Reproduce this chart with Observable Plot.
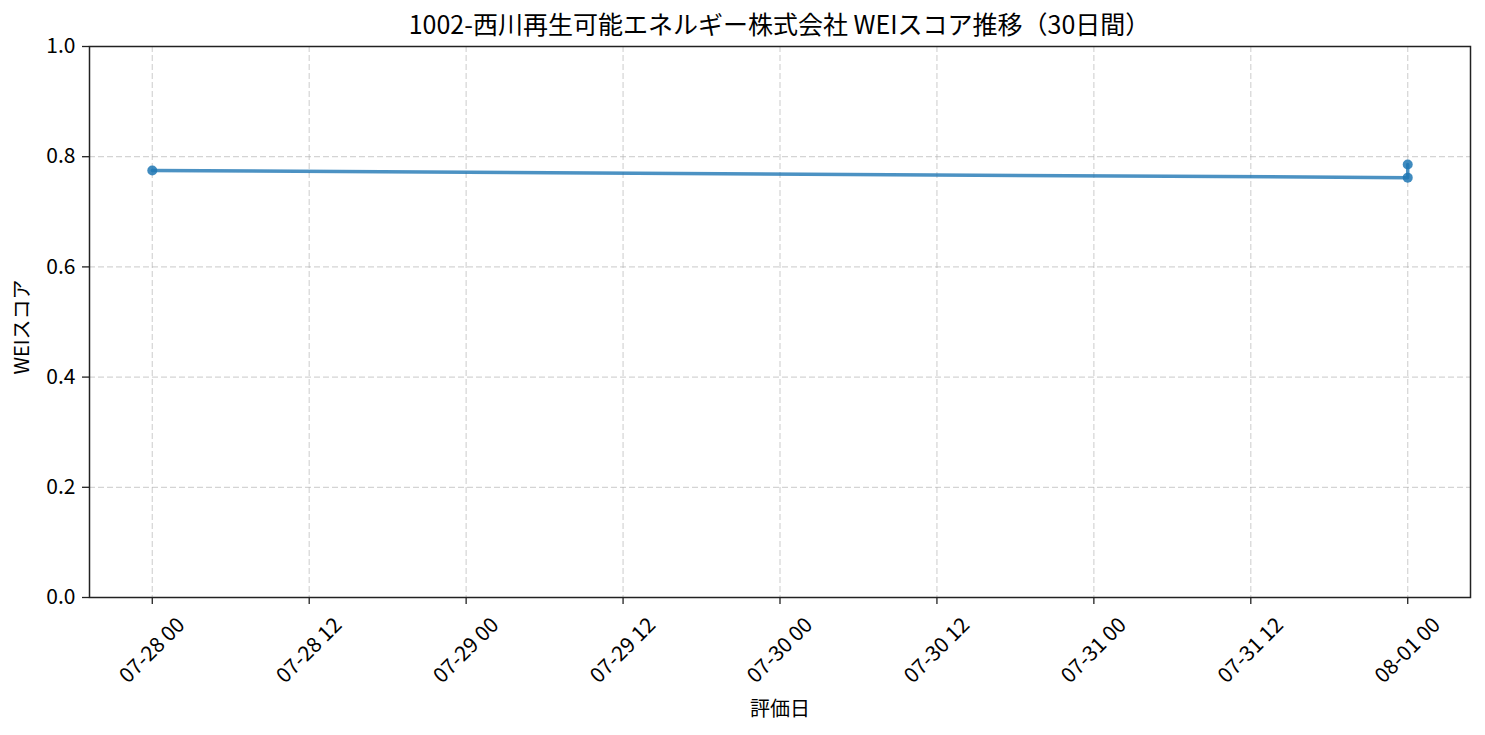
<!DOCTYPE html>
<html><head><meta charset="utf-8">
<script src="https://cdn.jsdelivr.net/npm/d3@7"></script>
<script src="https://cdn.jsdelivr.net/npm/@observablehq/plot@0.6"></script>
<style>
body{margin:0;background:#fff;font-family:"Noto Sans CJK JP",sans-serif;}
#wrap{width:1485px;height:735px;position:relative;}
#title{height:28px;box-sizing:border-box;padding:10px 15px 0 89px;text-align:center;font-size:25px;line-height:27px;color:#000;position:relative;z-index:1;white-space:nowrap;}
svg{display:block;}
</style></head>
<body><div id="wrap"><div id="title">1002-西川再生可能エネルギー株式会社 WEIスコア推移（30日間）</div><div id="chart"></div></div>
<script>
const dates = ["2025-07-28T00:00:00Z", "2025-08-01T00:00:00Z", "2025-08-01T00:00:00Z"];
const scores = [0.775, 0.762, 0.786];
const xTickLabels = ["07-28 00","07-28 12","07-29 00","07-29 12","07-30 00","07-30 12","07-31 00","07-31 12","08-01 00"];
const yTicks = [0, 0.2, 0.4, 0.6, 0.8, 1.0];
const xLabel = "評価日";
const yLabel = "WEIスコア";

const data = dates.map((d, i) => ({date: new Date(d), score: scores[i]}));
const xTicks = xTickLabels.map(s => ({date: new Date(`2025-${s.slice(0,5)}T${s.slice(6)}:00:00Z`), label: s}));
const t0 = data[0].date, t1 = data[data.length - 1].date;
const pad = (t1 - t0) * 0.05;
const font = '"Noto Sans CJK JP", sans-serif';
const grid = {stroke: "#b0b0b0", strokeOpacity: 0.55, strokeDasharray: "6,3", strokeWidth: 1.2};

const chart = Plot.plot({
  width: 1485, height: 707,
  marginTop: 18, marginLeft: 89, marginRight: 15, marginBottom: 138,
  style: {fontFamily: font, fontSize: "21px", color: "#000", background: "transparent", overflow: "visible"},
  x: {type: "utc", domain: [new Date(+t0 - pad), new Date(+t1 + pad)]},
  y: {domain: [0, 1]},
  marks: [
    Plot.gridX(xTicks.map(d => d.date), grid),
    Plot.gridY(yTicks, grid),
    Plot.axisX(xTicks.map(d => d.date), {tickFormat: () => "", tickSize: 7, stroke: "#222", strokeWidth: 1.3, label: null}),
    Plot.text(xTicks, {x: "date", text: "label", frameAnchor: "bottom", dy: 53, rotate: -45,
      textAnchor: "middle", lineAnchor: "middle", fontSize: 21, fill: "#000"}),
    Plot.axisY(yTicks, {tickFormat: d3.format(".1f"), tickSize: 7, tickPadding: 7, stroke: "#222", strokeWidth: 1.3,
      fontSize: 21, fill: "#000", label: null}),
    Plot.text([xLabel], {frameAnchor: "bottom", dy: 112, text: d => d, fontSize: 20, fill: "#000",
      textAnchor: "middle", lineAnchor: "middle"}),
    Plot.text([yLabel], {frameAnchor: "left", dx: -67, dy: 5, text: d => d, rotate: -90, fontSize: 20, fill: "#000",
      textAnchor: "middle", lineAnchor: "middle"}),
    Plot.frame({stroke: "#222", strokeWidth: 1.5}),
    Plot.line(data, {x: "date", y: "score", stroke: "#1f77b4", strokeOpacity: 0.8, strokeWidth: 3.5}),
    Plot.dot(data, {x: "date", y: "score", r: 5, fill: "#1f77b4", fillOpacity: 0.85, stroke: "none"})
  ]
});
document.getElementById("chart").append(chart);
</script></body></html>
